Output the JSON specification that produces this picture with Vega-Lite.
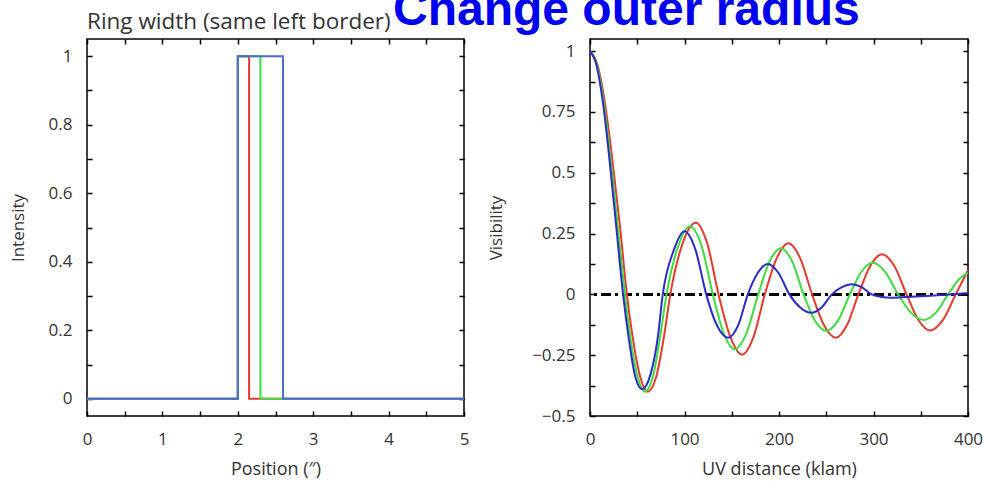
{
  "$schema": "https://vega.github.io/schema/vega-lite/v6.json",
  "autosize": {"type": "pad"},
  "padding": {"left": 8, "top": -14, "right": 0, "bottom": 0},
  "background": "white",
  "config": {
    "view": {"stroke": "black", "strokeWidth": 1.5},
    "axis": {
      "labelFont": "Open Sans", "labelFontSize": 17, "labelColor": "#333333", "labelFlush": false,
      "titleFont": "Open Sans", "titleFontSize": 18, "titleFontWeight": "normal", "titleColor": "#333333",
      "domain": false, "grid": false, "tickColor": "black", "tickWidth": 1.5, "tickSize": -5
    }
  },
  "resolve": {"scale": {"color": "independent"}},
  "bounds": "flush",
  "spacing": 126,
  "datasets": {
    "profile": [
      {"ring": "w0.15", "i": 0, "pos": 0, "intensity": 0},
      {"ring": "w0.15", "i": 1, "pos": 2, "intensity": 0},
      {"ring": "w0.15", "i": 2, "pos": 2, "intensity": 1},
      {"ring": "w0.15", "i": 3, "pos": 2.15, "intensity": 1},
      {"ring": "w0.15", "i": 4, "pos": 2.15, "intensity": 0},
      {"ring": "w0.15", "i": 5, "pos": 5, "intensity": 0},
      {"ring": "w0.30", "i": 0, "pos": 0, "intensity": 0},
      {"ring": "w0.30", "i": 1, "pos": 2, "intensity": 0},
      {"ring": "w0.30", "i": 2, "pos": 2, "intensity": 1},
      {"ring": "w0.30", "i": 3, "pos": 2.3, "intensity": 1},
      {"ring": "w0.30", "i": 4, "pos": 2.3, "intensity": 0},
      {"ring": "w0.30", "i": 5, "pos": 5, "intensity": 0},
      {"ring": "w0.60", "i": 0, "pos": 0, "intensity": 0},
      {"ring": "w0.60", "i": 1, "pos": 2, "intensity": 0},
      {"ring": "w0.60", "i": 2, "pos": 2, "intensity": 1},
      {"ring": "w0.60", "i": 3, "pos": 2.6, "intensity": 1},
      {"ring": "w0.60", "i": 4, "pos": 2.6, "intensity": 0},
      {"ring": "w0.60", "i": 5, "pos": 5, "intensity": 0}
    ],
    "vis": [
      {"ring": "w0.15", "u": 0, "v": 1},
      {"ring": "w0.15", "u": 8, "v": 0.943},
      {"ring": "w0.15", "u": 16, "v": 0.782},
      {"ring": "w0.15", "u": 24, "v": 0.541},
      {"ring": "w0.15", "u": 32, "v": 0.27},
      {"ring": "w0.15", "u": 39, "v": 0},
      {"ring": "w0.15", "u": 45.5, "v": -0.185},
      {"ring": "w0.15", "u": 53.5, "v": -0.344},
      {"ring": "w0.15", "u": 61, "v": -0.4},
      {"ring": "w0.15", "u": 70, "v": -0.34},
      {"ring": "w0.15", "u": 78, "v": -0.18},
      {"ring": "w0.15", "u": 85, "v": 0},
      {"ring": "w0.15", "u": 98, "v": 0.21},
      {"ring": "w0.15", "u": 112, "v": 0.295},
      {"ring": "w0.15", "u": 124, "v": 0.21},
      {"ring": "w0.15", "u": 136, "v": 0},
      {"ring": "w0.15", "u": 148.5, "v": -0.175},
      {"ring": "w0.15", "u": 161, "v": -0.248},
      {"ring": "w0.15", "u": 173, "v": -0.175},
      {"ring": "w0.15", "u": 185, "v": 0},
      {"ring": "w0.15", "u": 197.5, "v": 0.148},
      {"ring": "w0.15", "u": 210, "v": 0.21},
      {"ring": "w0.15", "u": 222.5, "v": 0.148},
      {"ring": "w0.15", "u": 235, "v": 0},
      {"ring": "w0.15", "u": 247.5, "v": -0.126},
      {"ring": "w0.15", "u": 260, "v": -0.178},
      {"ring": "w0.15", "u": 272, "v": -0.126},
      {"ring": "w0.15", "u": 284, "v": 0},
      {"ring": "w0.15", "u": 296.5, "v": 0.117},
      {"ring": "w0.15", "u": 309, "v": 0.165},
      {"ring": "w0.15", "u": 322, "v": 0.117},
      {"ring": "w0.15", "u": 335, "v": 0},
      {"ring": "w0.15", "u": 347.5, "v": -0.105},
      {"ring": "w0.15", "u": 360, "v": -0.148},
      {"ring": "w0.15", "u": 373.5, "v": -0.105},
      {"ring": "w0.15", "u": 387, "v": 0},
      {"ring": "w0.15", "u": 400, "v": 0.1},
      {"ring": "w0.30", "u": 0, "v": 1},
      {"ring": "w0.30", "u": 7.4, "v": 0.943},
      {"ring": "w0.30", "u": 14.8, "v": 0.782},
      {"ring": "w0.30", "u": 22.2, "v": 0.541},
      {"ring": "w0.30", "u": 29.6, "v": 0.27},
      {"ring": "w0.30", "u": 37, "v": 0},
      {"ring": "w0.30", "u": 43, "v": -0.185},
      {"ring": "w0.30", "u": 50.8, "v": -0.344},
      {"ring": "w0.30", "u": 58, "v": -0.4},
      {"ring": "w0.30", "u": 66.5, "v": -0.34},
      {"ring": "w0.30", "u": 74, "v": -0.18},
      {"ring": "w0.30", "u": 81, "v": 0},
      {"ring": "w0.30", "u": 93.5, "v": 0.2},
      {"ring": "w0.30", "u": 106, "v": 0.28},
      {"ring": "w0.30", "u": 118, "v": 0.2},
      {"ring": "w0.30", "u": 130, "v": 0},
      {"ring": "w0.30", "u": 141.5, "v": -0.16},
      {"ring": "w0.30", "u": 153, "v": -0.225},
      {"ring": "w0.30", "u": 165.5, "v": -0.16},
      {"ring": "w0.30", "u": 178, "v": 0},
      {"ring": "w0.30", "u": 190, "v": 0.135},
      {"ring": "w0.30", "u": 202, "v": 0.19},
      {"ring": "w0.30", "u": 214, "v": 0.135},
      {"ring": "w0.30", "u": 226, "v": 0},
      {"ring": "w0.30", "u": 238, "v": -0.107},
      {"ring": "w0.30", "u": 250, "v": -0.15},
      {"ring": "w0.30", "u": 262.5, "v": -0.107},
      {"ring": "w0.30", "u": 275, "v": 0},
      {"ring": "w0.30", "u": 287, "v": 0.092},
      {"ring": "w0.30", "u": 299, "v": 0.13},
      {"ring": "w0.30", "u": 312.5, "v": 0.092},
      {"ring": "w0.30", "u": 326, "v": 0},
      {"ring": "w0.30", "u": 339.5, "v": -0.075},
      {"ring": "w0.30", "u": 353, "v": -0.105},
      {"ring": "w0.30", "u": 366, "v": -0.075},
      {"ring": "w0.30", "u": 379, "v": 0},
      {"ring": "w0.30", "u": 391, "v": 0.064},
      {"ring": "w0.30", "u": 400, "v": 0.088},
      {"ring": "w0.60", "u": 0, "v": 1},
      {"ring": "w0.60", "u": 7, "v": 0.94},
      {"ring": "w0.60", "u": 14, "v": 0.78},
      {"ring": "w0.60", "u": 21, "v": 0.54},
      {"ring": "w0.60", "u": 28, "v": 0.27},
      {"ring": "w0.60", "u": 35, "v": 0},
      {"ring": "w0.60", "u": 41, "v": -0.18},
      {"ring": "w0.60", "u": 48, "v": -0.34},
      {"ring": "w0.60", "u": 55, "v": -0.39},
      {"ring": "w0.60", "u": 64, "v": -0.33},
      {"ring": "w0.60", "u": 72, "v": -0.17},
      {"ring": "w0.60", "u": 77, "v": 0},
      {"ring": "w0.60", "u": 88.5, "v": 0.18},
      {"ring": "w0.60", "u": 100, "v": 0.26},
      {"ring": "w0.60", "u": 111.5, "v": 0.185},
      {"ring": "w0.60", "u": 123, "v": 0},
      {"ring": "w0.60", "u": 134, "v": -0.125},
      {"ring": "w0.60", "u": 146, "v": -0.178},
      {"ring": "w0.60", "u": 157, "v": -0.125},
      {"ring": "w0.60", "u": 167, "v": 0},
      {"ring": "w0.60", "u": 177.5, "v": 0.088},
      {"ring": "w0.60", "u": 188, "v": 0.125},
      {"ring": "w0.60", "u": 199.5, "v": 0.088},
      {"ring": "w0.60", "u": 211, "v": 0},
      {"ring": "w0.60", "u": 222.5, "v": -0.054},
      {"ring": "w0.60", "u": 234, "v": -0.076},
      {"ring": "w0.60", "u": 245, "v": -0.054},
      {"ring": "w0.60", "u": 256, "v": 0},
      {"ring": "w0.60", "u": 266.5, "v": 0.03},
      {"ring": "w0.60", "u": 277, "v": 0.042},
      {"ring": "w0.60", "u": 287.5, "v": 0.03},
      {"ring": "w0.60", "u": 298, "v": 0},
      {"ring": "w0.60", "u": 308, "v": -0.01},
      {"ring": "w0.60", "u": 318, "v": -0.014},
      {"ring": "w0.60", "u": 330, "v": -0.012},
      {"ring": "w0.60", "u": 345, "v": -0.009},
      {"ring": "w0.60", "u": 360, "v": -0.006},
      {"ring": "w0.60", "u": 375, "v": -0.002},
      {"ring": "w0.60", "u": 388, "v": 0.002},
      {"ring": "w0.60", "u": 400, "v": 0.006}
    ]
  },
  "hconcat": [
    {
      "width": 377,
      "height": 377,
      "title": {"text": "Ring width (same left border)", "anchor": "start", "frame": "group", "font": "Open Sans", "fontSize": 22.5, "fontWeight": "normal", "color": "#333333", "offset": 5},
      "data": {"name": "profile"},
      "layer": [
        {
          "mark": {"type": "line", "strokeWidth": 2},
          "encoding": {
            "x": {"field": "pos", "type": "quantitative", "scale": {"domain": [0, 5], "nice": false, "zero": false},
              "axis": {"orient": "bottom", "title": "Position (″)", "values": [0, 0.5, 1, 1.5, 2, 2.5, 3, 3.5, 4, 4.5, 5], "labelExpr": "datum.value % 1 == 0 ? format(datum.value, '~g') : ''", "labelPadding": 20, "titlePadding": 13}},
            "y": {"field": "intensity", "type": "quantitative", "scale": {"domain": [-0.05, 1.05], "nice": false, "zero": false},
              "axis": {"orient": "left", "title": "Intensity", "titleFontSize": 17, "values": [0, 0.1, 0.2, 0.3, 0.4, 0.5, 0.6, 0.7, 0.8, 0.9, 1], "labelExpr": "round(datum.value * 10) % 2 == 0 ? format(datum.value, '~g') : ''", "labelPadding": 20, "titlePadding": 21}},
            "color": {"field": "ring", "type": "nominal", "scale": {"domain": ["w0.15", "w0.30", "w0.60"], "range": ["#e53a2f", "#3fdc3f", "#4a6cd4"]}, "legend": null},
            "order": {"field": "i", "type": "quantitative"}
          }
        },
        {
          "mark": {"type": "point", "opacity": 0},
          "encoding": {
            "x": {"field": "pos", "type": "quantitative", "scale": {"domain": [0, 5], "nice": false, "zero": false},
              "axis": {"orient": "top", "title": null, "labels": false, "values": [0, 0.5, 1, 1.5, 2, 2.5, 3, 3.5, 4, 4.5, 5]}},
            "y": {"field": "intensity", "type": "quantitative", "scale": {"domain": [-0.05, 1.05], "nice": false, "zero": false},
              "axis": {"orient": "right", "title": null, "labels": false, "values": [0, 0.1, 0.2, 0.3, 0.4, 0.5, 0.6, 0.7, 0.8, 0.9, 1]}}
          }
        }
      ],
      "resolve": {"axis": {"x": "independent", "y": "independent"}}
    },
    {
      "width": 378,
      "height": 377,
      "title": {"text": "Change outer radius", "anchor": "start", "frame": "group", "dx": -197, "font": "Liberation Sans", "fontSize": 48, "fontWeight": "bold", "color": "#0000f0", "offset": 3},
      "data": {"name": "vis"},
      "layer": [
        {
          "mark": {"type": "rule", "color": "black", "strokeWidth": 1.5, "strokeDash": [10, 4, 3, 4]},
          "encoding": {"y": {"datum": 0, "type": "quantitative", "axis": null}}
        },
        {
          "mark": {"type": "line", "strokeWidth": 2, "interpolate": "monotone"},
          "encoding": {
            "x": {"field": "u", "type": "quantitative", "scale": {"domain": [0, 400], "nice": false, "zero": false},
              "axis": {"orient": "bottom", "title": "UV distance (klam)", "values": [0, 50, 100, 150, 200, 250, 300, 350, 400], "labelExpr": "datum.value % 100 == 0 ? format(datum.value, '~g') : ''", "labelPadding": 20, "titlePadding": 13}},
            "y": {"field": "v", "type": "quantitative", "scale": {"domain": [-0.5, 1.05], "nice": false, "zero": false},
              "axis": {"orient": "left", "title": "Visibility", "titleFontSize": 17, "values": [-0.5, -0.375, -0.25, -0.125, 0, 0.125, 0.25, 0.375, 0.5, 0.625, 0.75, 0.875, 1], "labelExpr": "abs(datum.value * 4 - round(datum.value * 4)) < 0.001 ? format(datum.value, '~g') : ''", "labelPadding": 20, "titlePadding": 26}},
            "color": {"field": "ring", "type": "nominal", "scale": {"domain": ["w0.15", "w0.30", "w0.60"], "range": ["#e63a2e", "#3fdc3f", "#2b2bc8"]}, "legend": null}
          }
        },
        {
          "mark": {"type": "point", "opacity": 0},
          "encoding": {
            "x": {"field": "u", "type": "quantitative", "scale": {"domain": [0, 400], "nice": false, "zero": false},
              "axis": {"orient": "top", "title": null, "labels": false, "values": [0, 50, 100, 150, 200, 250, 300, 350, 400]}},
            "y": {"field": "v", "type": "quantitative", "scale": {"domain": [-0.5, 1.05], "nice": false, "zero": false},
              "axis": {"orient": "right", "title": null, "labels": false, "values": [-0.5, -0.375, -0.25, -0.125, 0, 0.125, 0.25, 0.375, 0.5, 0.625, 0.75, 0.875, 1]}}
          }
        }
      ],
      "resolve": {"axis": {"x": "independent", "y": "independent"}}
    }
  ]
}
